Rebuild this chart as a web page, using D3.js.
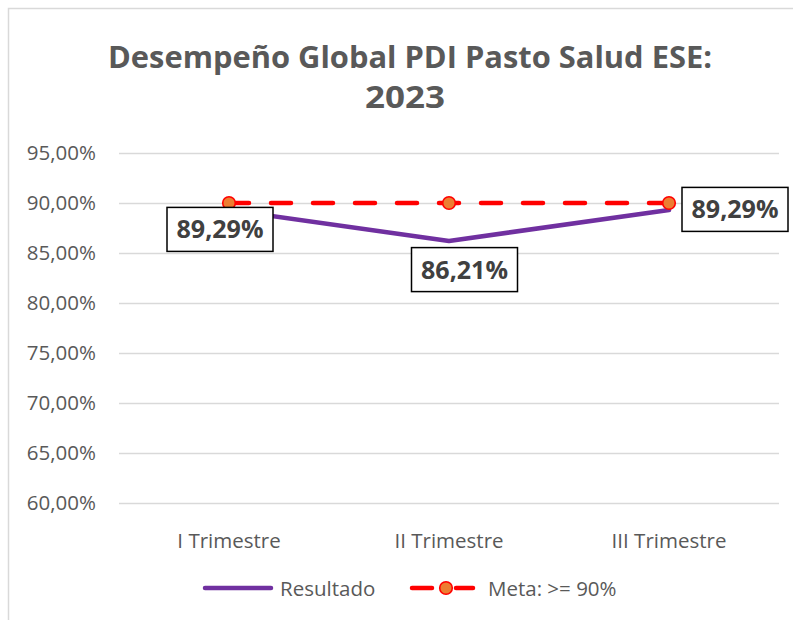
<!DOCTYPE html>
<html>
<head>
<meta charset="utf-8">
<script src="https://cdn.jsdelivr.net/npm/d3@7"></script>
<style>
  html, body { margin: 0; padding: 0; background: #fff; }
  svg { display: block; font-family: "Open Sans", "Liberation Sans", sans-serif; }
</style>
</head>
<body>
<svg id="chart" width="793" height="620"></svg>
<script>
// ---- data ----
const categories = ["I Trimestre", "II Trimestre", "III Trimestre"];
const resultado = [0.8929, 0.8621, 0.8929];
const meta = [0.90, 0.90, 0.90];
const yTicks = [0.60, 0.65, 0.70, 0.75, 0.80, 0.85, 0.90, 0.95];
const titleLines = ["Desempeño Global PDI Pasto Salud ESE:", "2023"];
const seriesNames = ["Resultado", "Meta: >= 90%"];

// ---- layout ----
const svg = d3.select("#chart");
const textColor = "#595959";
const purple = "#7030A0";
const red = "#FF0000";
const orange = "#ED7D31";

svg.append("rect")
  .attr("x", 8.5).attr("y", 8.5)
  .attr("width", 820).attr("height", 640)
  .attr("fill", "#fff").attr("stroke", "#d9d9d9").attr("stroke-width", 1.5);

const x = d3.scaleBand().domain(categories).range([119, 779]);
const y = d3.scaleLinear().domain([0.60, 0.95]).range([503, 153]);
const cx = d => x(d) + x.bandwidth() / 2;

// title
svg.append("text")
  .attr("x", 410).attr("y", 68)
  .attr("text-anchor", "middle")
  .attr("font-size", 31).attr("font-weight", "bold")
  .attr("fill", textColor)
  .attr("textLength", 604).attr("lengthAdjust", "spacingAndGlyphs")
  .text(titleLines[0]);
svg.append("text")
  .attr("x", 405).attr("y", 108)
  .attr("text-anchor", "middle")
  .attr("font-size", 31).attr("font-weight", "bold")
  .attr("fill", textColor)
  .attr("textLength", 80).attr("lengthAdjust", "spacingAndGlyphs")
  .text(titleLines[1]);

// gridlines + y axis
const fmt = v => d3.format(".2f")(v * 100).replace(".", ",") + "%";
const yAxis = d3.axisLeft(y).tickValues(yTicks).tickFormat(fmt)
  .tickSize(-(779 - 119)).tickPadding(23);
const gy = svg.append("g").attr("transform", "translate(119,0)").call(yAxis);
gy.select(".domain").remove();
gy.selectAll(".tick line").attr("stroke", "#d9d9d9").attr("stroke-width", 1.3);
gy.selectAll(".tick text")
  .attr("fill", textColor).attr("font-size", 20.5)
  .attr("font-family", "'Open Sans', sans-serif");

// x axis labels
const xAxis = d3.axisBottom(x).tickSize(0).tickPadding(30);
const gx = svg.append("g").attr("transform", "translate(0,503)").call(xAxis);
gx.select(".domain").remove();
gx.selectAll(".tick text")
  .attr("fill", textColor).attr("font-size", 20.5)
  .attr("font-family", "'Open Sans', sans-serif");

// resultado line
const lineGen = d3.line().x((d, i) => cx(categories[i])).y(d => y(d));
svg.append("path")
  .datum(resultado)
  .attr("d", lineGen)
  .attr("fill", "none").attr("stroke", purple)
  .attr("stroke-width", 4.5).attr("stroke-linejoin", "round").attr("stroke-linecap", "round");

// meta line
svg.append("path")
  .datum(meta)
  .attr("d", lineGen)
  .attr("fill", "none").attr("stroke", red)
  .attr("stroke-width", 4.5).attr("stroke-dasharray", "20,22")
  .attr("stroke-linecap", "round");
svg.selectAll("circle.meta")
  .data(meta).enter().append("circle")
  .attr("class", "meta")
  .attr("cx", (d, i) => cx(categories[i])).attr("cy", d => y(d))
  .attr("r", 6.3)
  .attr("fill", orange).attr("stroke", red).attr("stroke-width", 1.6);

// data labels
const labelOffsets = [[-9, 19.3], [15.5, 28.7], [66, -0.7]];
const lbl = svg.selectAll("g.lbl").data(resultado).enter().append("g")
  .attr("class", "lbl")
  .attr("transform", (d, i) =>
    `translate(${cx(categories[i]) + labelOffsets[i][0]},${y(d) + labelOffsets[i][1]})`);
lbl.append("rect")
  .attr("x", -53).attr("y", -22).attr("width", 106).attr("height", 44)
  .attr("fill", "#fff").attr("stroke", "#000").attr("stroke-width", 1.5);
lbl.append("text")
  .attr("text-anchor", "middle").attr("y", 9)
  .attr("font-size", 25).attr("font-weight", "bold")
  .attr("fill", "#404040")
  .attr("textLength", 87).attr("lengthAdjust", "spacingAndGlyphs")
  .text(d => fmt(d));

// legend
const leg = svg.append("g");
leg.append("line")
  .attr("x1", 205).attr("x2", 271).attr("y1", 588).attr("y2", 588)
  .attr("stroke", purple).attr("stroke-width", 4.5).attr("stroke-linecap", "round");
leg.append("text")
  .attr("x", 280).attr("y", 596)
  .attr("font-size", 20.5).attr("fill", textColor)
  .text(seriesNames[0]);
leg.append("line")
  .attr("x1", 412).attr("x2", 432).attr("y1", 588).attr("y2", 588)
  .attr("stroke", red).attr("stroke-width", 4.5).attr("stroke-linecap", "round");
leg.append("line")
  .attr("x1", 456).attr("x2", 473).attr("y1", 588).attr("y2", 588)
  .attr("stroke", red).attr("stroke-width", 4.5).attr("stroke-linecap", "round");
leg.append("circle")
  .attr("cx", 446).attr("cy", 588).attr("r", 6.3)
  .attr("fill", orange).attr("stroke", red).attr("stroke-width", 1.6);
leg.append("text")
  .attr("x", 488).attr("y", 596)
  .attr("font-size", 20.5).attr("fill", textColor)
  .text(seriesNames[1]);
</script>
</body>
</html>
